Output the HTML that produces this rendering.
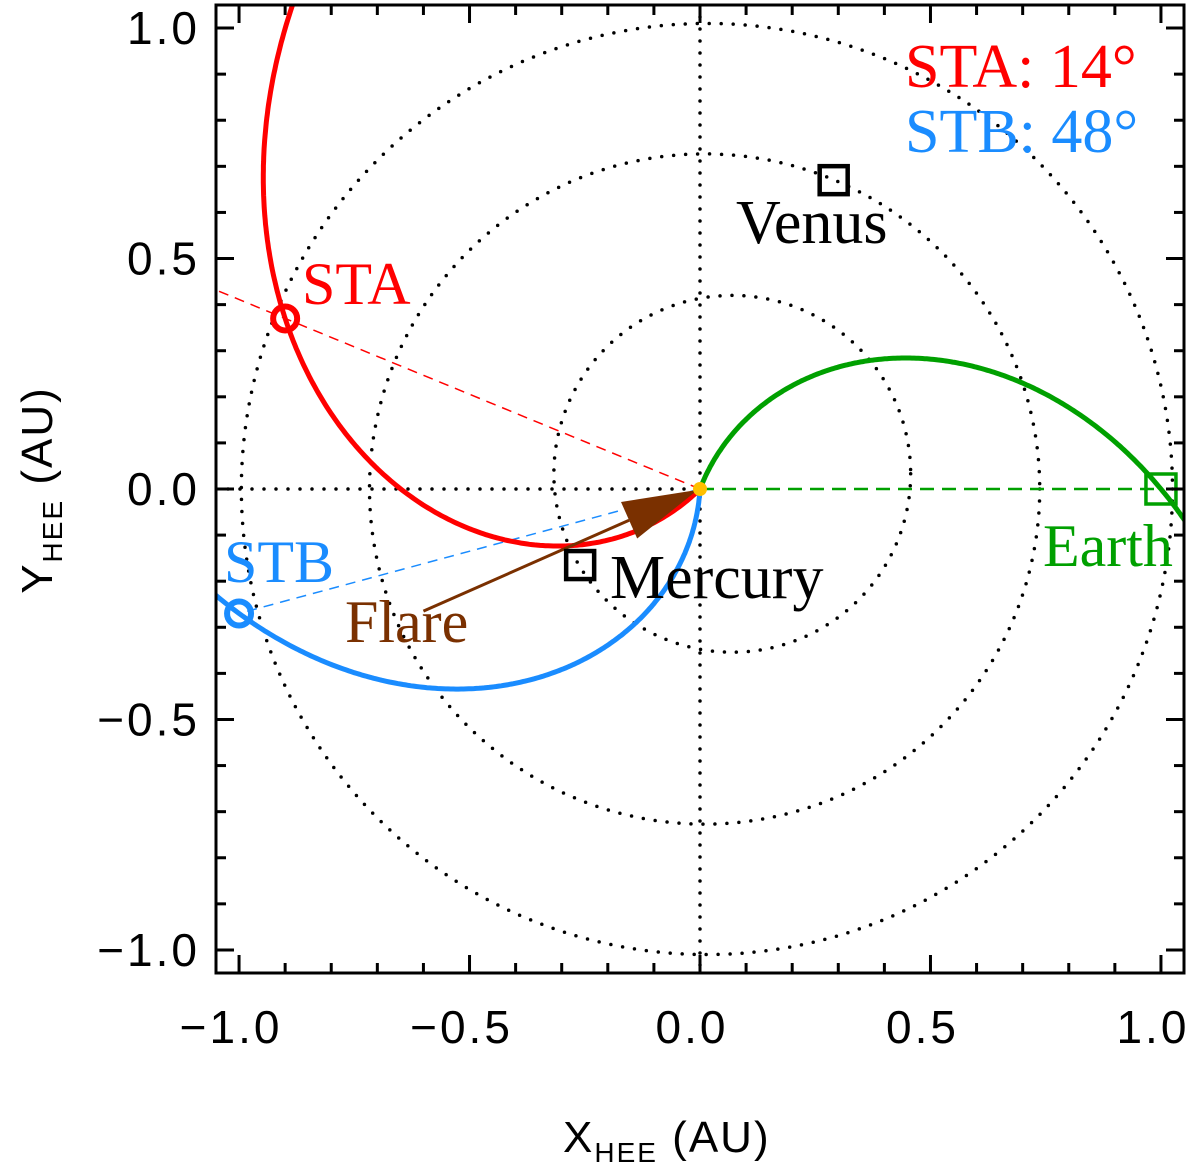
<!DOCTYPE html>
<html><head><meta charset="utf-8"><style>
body{margin:0;background:#fff}
svg{display:block}
text{font-family:"Liberation Sans",sans-serif}
.serif{font-family:"Liberation Serif",serif}
</style></head><body>
<svg id="chart" width="1200" height="1172" viewBox="0 0 1200 1172" xmlns="http://www.w3.org/2000/svg">
<defs><clipPath id="pc"><rect x="216" y="5" width="968" height="968"/></clipPath></defs>
<g id="grid" clip-path="url(#pc)"></g>
<g id="marks" clip-path="url(#pc)"></g>
<g id="labels"></g>
<g id="axes"></g>
<text x="563" y="1152" font-size="44" font-family="Liberation Sans, sans-serif" letter-spacing="2">X<tspan font-size="28" dy="10">HEE</tspan><tspan dy="-10"> (AU)</tspan></text>
<text transform="translate(52,490) rotate(-90)" text-anchor="middle" font-size="44" font-family="Liberation Sans, sans-serif" letter-spacing="2">Y<tspan font-size="28" dy="10">HEE</tspan><tspan dy="-10"> (AU)</tspan></text>
</svg>
<script>
// ---- data ----
const xTicks = [-1.0, -0.5, 0.0, 0.5, 1.0];
const yTicks = [-1.0, -0.5, 0.0, 0.5, 1.0];
const tickLabels = ["\u22121.0", "\u22120.5", "0.0", "0.5", "1.0"];
const orbitCenterX = [0.07, 0.01, 0.015];
const orbitCenterY = [0.033, 0.0, 0.0];
const orbitRadius = [0.387, 0.727, 1.01];
const spiralNames = ["STA", "STB", "Earth"];
const spiralColors = ["#ff0000", "#1a8cff", "#00a000"];
const spiralEndX = [-0.90, -1.00, 1.00];
const spiralEndY = [0.37, -0.27, 0.0];
const spiralMaxR = [1.6, 1.3, 1.15];
const windTwist = 69; // degrees per AU
const planetNames = ["Mercury", "Venus"];
const planetX = [-0.26, 0.29];
const planetY = [-0.165, 0.67];
const flareStart = [-0.6, -0.265];
const flareEnd = [-0.005, -0.002];
const sepLabels = ["STA: 14\u00b0", "STB: 48\u00b0"];

// ---- scales ----
const L=216,R=1184,T=5,B=973, xmin=-1.05,xmax=1.05,ymin=-1.05,ymax=1.05;
const sx=v=>L+(v-xmin)/(xmax-xmin)*(R-L);
const sy=v=>B-(v-ymin)/(ymax-ymin)*(B-T);
const S=(R-L)/(xmax-xmin);
const NS="http://www.w3.org/2000/svg";
function mk(tag,attrs,parent){const e=document.createElementNS(NS,tag);for(const k in attrs)e.setAttribute(k,attrs[k]);parent.appendChild(e);return e;}
const grid=document.getElementById('grid'),marks=document.getElementById('marks'),labels=document.getElementById('labels'),axes=document.getElementById('axes');

orbitRadius.forEach((r,i)=>{
  const c=mk('circle',{cx:sx(orbitCenterX[i]),cy:sy(orbitCenterY[i]),r:r*S,fill:'none',stroke:'#000','stroke-width':3.5,'stroke-dasharray':'0 12','stroke-linecap':'round'},grid);
  
  
});
let gl=mk('line',{x1:L,y1:sy(0),x2:sx(0),y2:sy(0),stroke:'#000','stroke-width':3.5,'stroke-dasharray':'0 12','stroke-linecap':'round'},grid);


gl=mk('line',{x1:sx(0),y1:T,x2:sx(0),y2:B,stroke:'#000','stroke-width':3.5,'stroke-dasharray':'0 12','stroke-linecap':'round'},grid);



spiralNames.forEach((n,i)=>{
  const ang=Math.atan2(spiralEndY[i],spiralEndX[i]);
  const ext = i===0?2:1;
  const r=Math.hypot(spiralEndX[i],spiralEndY[i])*ext;
  const d=mk('line',{x1:sx(0),y1:sy(0),x2:sx(r*Math.cos(ang)),y2:sy(r*Math.sin(ang)),stroke:spiralColors[i],'stroke-width':i===2?2.5:1.5,'stroke-dasharray':i===2?'14 8':'10 7'},marks);
  
  
});

spiralNames.forEach((n,i)=>{
  const r1=Math.hypot(spiralEndX[i],spiralEndY[i]);
  const th1=Math.atan2(spiralEndY[i],spiralEndX[i])*180/Math.PI;
  const th0=th1+windTwist*r1;
  let d='';
  for(let k=0;k<=300;k++){const r=spiralMaxR[i]*k/300;const th=(th0-windTwist*r)*Math.PI/180;
    d+=(k?'L':'M')+sx(r*Math.cos(th)).toFixed(1)+','+sy(r*Math.sin(th)).toFixed(1);}
  const p=mk('path',{d:d,fill:'none',stroke:spiralColors[i],'stroke-width':5},marks);
  
  
});

{
  const x1=sx(flareStart[0]),y1=sy(flareStart[1]),x2=sx(flareEnd[0]),y2=sy(flareEnd[1]);
  const a=Math.atan2(y2-y1,x2-x1),len=75,w=20;
  const bx=x2-len*Math.cos(a),by=y2-len*Math.sin(a);
  const ln=mk('line',{x1:x1,y1:y1,x2:bx,y2:by,stroke:'#7a3000','stroke-width':3},marks);
  
  
  const px=-Math.sin(a),py=Math.cos(a);
  const hd=mk('polygon',{points:`${x2},${y2} ${bx+px*w},${by+py*w} ${bx-px*w},${by-py*w}`,fill:'#7a3000'},marks);
  
  
}
const sun=mk('circle',{cx:sx(0),cy:sy(0),r:7,fill:'#ffc000'},marks);



planetNames.forEach((n,i)=>{
  const q=mk('rect',{x:sx(planetX[i])-14,y:sy(planetY[i])-14,width:28,height:28,fill:'none',stroke:'#000','stroke-width':4.5},marks);
  
  
});
{
  const q=mk('rect',{x:sx(spiralEndX[2])-15,y:sy(spiralEndY[2])-15,width:30,height:30,fill:'none',stroke:'#00a000','stroke-width':3.5},marks);
  
  
  for(let i=0;i<2;i++){
    const c=mk('circle',{cx:sx(spiralEndX[i]),cy:sy(spiralEndY[i]),r:12,fill:'none',stroke:spiralColors[i],'stroke-width':6},marks);
    
    
  }
}

function lab(txt,x,y,color,size,name){const t=mk('text',{x:x,y:y,fill:color,'font-size':size,class:'serif'},labels);t.textContent=txt;
  
  return t;}
lab('STA',302,304,'#ff0000',60,'sta-label');
lab('STB',224,582,'#1a8cff',60,'stb-label');
lab('Flare',345,642,'#7a3000',60,'flare-label');
lab('Mercury',610,598,'#000',62,'mercury-label');
lab('Venus',736,243,'#000',62,'venus-label');
lab('Earth',1043,566,'#00a000',60,'earth-label');
lab(sepLabels[0],905,87,'#ff0000',62,'sta-separation-label');
lab(sepLabels[1],905,152,'#1a8cff',62,'stb-separation-label');

const fr=mk('rect',{x:L,y:T,width:R-L,height:B-T,fill:'none',stroke:'#000','stroke-width':3},axes);


for(let k=-10;k<=10;k++){
  const v=k/10,major=(k%5===0),len=major?18:10;
  const X=sx(v),Y=sy(v);
  mk('line',{x1:X,y1:B,x2:X,y2:B-len,stroke:'#000','stroke-width':3},axes);
  mk('line',{x1:X,y1:T,x2:X,y2:T+len,stroke:'#000','stroke-width':3},axes);
  mk('line',{x1:L,y1:Y,x2:L+len,y2:Y,stroke:'#000','stroke-width':3},axes);
  mk('line',{x1:R,y1:Y,x2:R-len,y2:Y,stroke:'#000','stroke-width':3},axes);
}
xTicks.forEach((v,i)=>{const t=mk('text',{x:sx(v)-8,y:1043,'font-size':46,'letter-spacing':3,'text-anchor':'middle'},axes);t.textContent=tickLabels[i];
  
  });
yTicks.forEach((v,i)=>{const t=mk('text',{x:200,y:sy(v)+16,'font-size':46,'letter-spacing':3,'text-anchor':'end'},axes);t.textContent=tickLabels[i];
  
  });
</script>
</body></html>
